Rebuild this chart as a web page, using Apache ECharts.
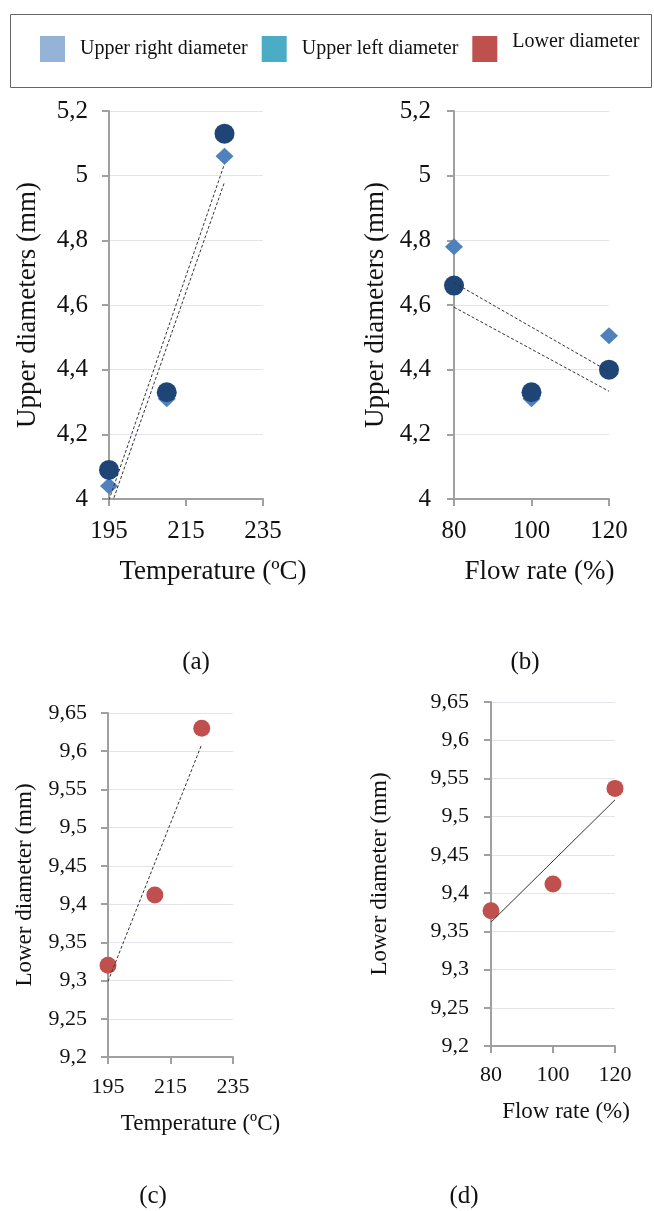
<!DOCTYPE html>
<html><head><meta charset="utf-8">
<script src="https://cdn.jsdelivr.net/npm/echarts@6/dist/echarts.min.js"></script>
<style>html,body{margin:0;padding:0;background:#fff}#c{width:654px;height:1211px}</style>
</head><body><div id="c"></div>
<script>
// ---- data ----
const temperature = [195, 210, 225];
const flowRate = [80, 100, 120];
const upperRightTemp = [4.04, 4.31, 5.06];
const upperLeftTemp = [4.09, 4.33, 5.13];
const upperRightFlow = [4.78, 4.31, 4.505];
const upperLeftFlow = [4.66, 4.33, 4.40];
const lowerTemp = [9.32, 9.412, 9.63];
const lowerFlow = [9.377, 9.412, 9.537];
const legendNames = ['Upper right diameter', 'Upper left diameter', 'Lower diameter'];
const legendColors = ['#95B3D7', '#4BACC6', '#C0504D'];
const captions = ['(a)', '(b)', '(c)', '(d)'];
const tempTicks = [195, 235, 20];
const flowTicks = [80, 120, 20];
const upperTicks = [4, 5.2, 0.2];
const lowerTicks = [9.2, 9.65, 0.05];

const FONT = '"Liberation Serif", "Times New Roman", serif';
const TXT = '#111';
const AX = '#A0A0A0';

function pairs(xs, ys) { return xs.map((x, i) => [x, ys[i]]); }
function trend(xs, ys) {
  const n = xs.length;
  const mx = xs.reduce((a, b) => a + b, 0) / n;
  const my = ys.reduce((a, b) => a + b, 0) / n;
  let sxy = 0, sxx = 0;
  for (let i = 0; i < n; i++) { sxy += (xs[i] - mx) * (ys[i] - my); sxx += (xs[i] - mx) ** 2; }
  const b = sxy / sxx, a = my - b * mx;
  const x0 = Math.min(...xs), x1 = Math.max(...xs);
  return [[x0, a + b * x0], [x1, a + b * x1]];
}
function fmt(v) { return String(+v.toFixed(2)).replace('.', ','); }

const grids = [
  { left: 109, top: 111, width: 154, height: 388 },
  { left: 454, top: 111, width: 155, height: 388 },
  { left: 108, top: 713, width: 125, height: 344 },
  { left: 491, top: 702, width: 124, height: 344 }
];

function xAx(i, ticks, name, fs, nfs, margin, shift, gap) {
  return {
    type: 'value', gridIndex: i, min: ticks[0], max: ticks[1], interval: ticks[2],
    name: name, nameLocation: 'middle', nameGap: gap,
    nameTextStyle: { fontSize: nfs, fontFamily: FONT, color: TXT, padding: [0, 0, 0, shift * 2] },
    axisLine: { show: true, onZero: false, lineStyle: { color: AX, width: 2 } },
    axisTick: { show: true, length: 7, lineStyle: { color: AX, width: 2 } },
    splitLine: { show: false },
    axisLabel: { fontSize: fs, fontFamily: FONT, color: TXT, margin: margin }
  };
}
function yAx(i, ticks, name, fs, nfs, margin, gap) {
  return {
    type: 'value', gridIndex: i, min: ticks[0], max: ticks[1], interval: ticks[2],
    name: name, nameLocation: 'middle', nameGap: gap,
    nameTextStyle: { fontSize: nfs, fontFamily: FONT, color: TXT },
    axisLine: { show: true, onZero: false, lineStyle: { color: AX, width: 2 } },
    axisTick: { show: true, length: 7, lineStyle: { color: AX, width: 2 } },
    splitLine: { show: true, lineStyle: { color: '#E3E3EC', width: 1 } },
    axisLabel: { fontSize: fs, fontFamily: FONT, color: TXT, margin: margin, formatter: fmt }
  };
}

function diamonds(i, xs, ys) {
  return { type: 'scatter', name: legendNames[0], xAxisIndex: i, yAxisIndex: i, symbol: 'diamond', symbolSize: [18, 17],
    itemStyle: { color: '#4F81BD', opacity: 1 }, data: pairs(xs, ys), z: 2 };
}
function circles(i, xs, ys) {
  return { type: 'scatter', name: legendNames[1], xAxisIndex: i, yAxisIndex: i, symbol: 'circle', symbolSize: 20,
    itemStyle: { color: '#1F4577', opacity: 1 }, data: pairs(xs, ys), z: 3 };
}
function reds(i, xs, ys) {
  return { type: 'scatter', name: legendNames[2], xAxisIndex: i, yAxisIndex: i, symbol: 'circle', symbolSize: 17,
    itemStyle: { color: '#C0504D', opacity: 1 }, data: pairs(xs, ys), z: 3 };
}
function tl(i, xs, ys, dashed) {
  return { type: 'line', name: 'trend' + i, xAxisIndex: i, yAxisIndex: i, data: trend(xs, ys), symbol: 'none',
    clip: true, silent: true, z: 5,
    lineStyle: { color: '#333', width: 1, type: dashed ? [3, 2] : 'solid' } };
}

const option = {
  animation: false,
  backgroundColor: '#fff',
  legend: {
    left: 35, top: 27, itemWidth: 25, itemHeight: 26, itemGap: 14, icon: 'rect', selectedMode: false,
    formatter: n => n === legendNames[2] ? '{up|' + n + '}' : n,
    textStyle: {
      fontSize: 20, fontFamily: FONT, color: TXT, padding: [0, 0, 0, 10],
      rich: { up: { fontSize: 20, fontFamily: FONT, color: TXT, padding: [0, 0, 14, 0] } }
    },
    data: legendNames.map((n, k) => ({ name: n, itemStyle: { color: legendColors[k] } }))
  },
  grid: grids,
  xAxis: [
    xAx(0, tempTicks, 'Temperature (ºC)', 25, 27, 20, 27, 59),
    xAx(1, flowTicks, 'Flow rate (%)', 25, 27, 20, 8, 59),
    xAx(2, tempTicks, 'Temperature (ºC)', 22, 23, 19, 30, 55),
    xAx(3, flowTicks, 'Flow rate (%)', 22, 23, 18, 13, 54)
  ],
  yAxis: [
    yAx(0, upperTicks, 'Upper diameters (mm)', 25, 27, 21, 68),
    yAx(1, upperTicks, 'Upper diameters (mm)', 25, 27, 23, 65),
    yAx(2, lowerTicks, 'Lower diameter (mm)', 22, 23, 21, 72),
    yAx(3, lowerTicks, 'Lower diameter (mm)', 22, 23, 22, 100)
  ],
  graphic: [
    { type: 'rect', shape: { x: 10.5, y: 14.5, width: 641, height: 73 }, style: { fill: 'none', stroke: '#666', lineWidth: 1 } },
    { type: 'text', x: 196, y: 662, style: { text: captions[0], align: 'center', verticalAlign: 'middle', fontSize: 25, fontFamily: FONT, fill: TXT } },
    { type: 'text', x: 525, y: 662, style: { text: captions[1], align: 'center', verticalAlign: 'middle', fontSize: 25, fontFamily: FONT, fill: TXT } },
    { type: 'text', x: 153, y: 1196, style: { text: captions[2], align: 'center', verticalAlign: 'middle', fontSize: 25, fontFamily: FONT, fill: TXT } },
    { type: 'text', x: 464, y: 1196, style: { text: captions[3], align: 'center', verticalAlign: 'middle', fontSize: 25, fontFamily: FONT, fill: TXT } }
  ],
  series: [
    diamonds(0, temperature, upperRightTemp),
    circles(0, temperature, upperLeftTemp),
    tl(0, temperature, upperRightTemp, true),
    tl(0, temperature, upperLeftTemp, true),
    diamonds(1, flowRate, upperRightFlow),
    circles(1, flowRate, upperLeftFlow),
    tl(1, flowRate, upperRightFlow, true),
    tl(1, flowRate, upperLeftFlow, true),
    reds(2, temperature, lowerTemp),
    tl(2, temperature, lowerTemp, true),
    reds(3, flowRate, lowerFlow),
    tl(3, flowRate, lowerFlow, false)
  ]
};
const chart = echarts.init(document.getElementById('c'), null, { renderer: 'canvas' });
chart.setOption(option);
</script>
</body></html>
